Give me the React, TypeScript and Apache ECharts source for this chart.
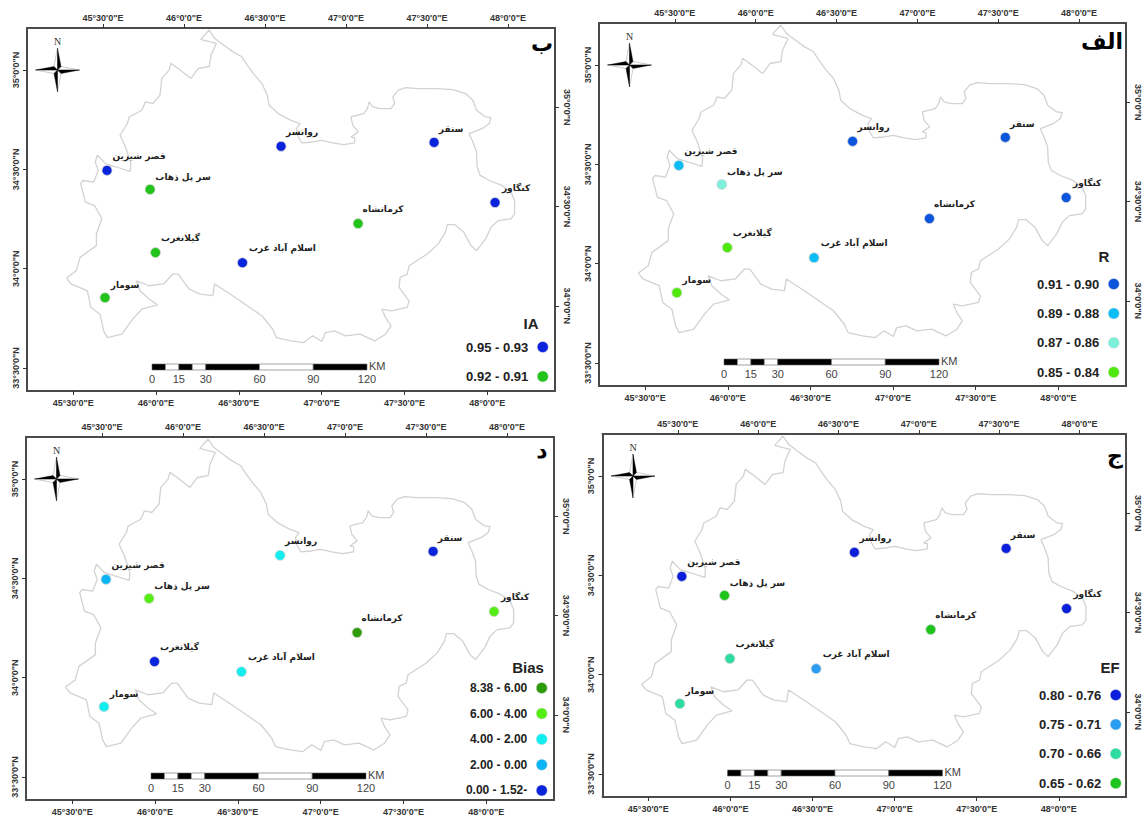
import React, { useEffect, useRef } from "react";
import * as echarts from "echarts";

const stationNames = ["قصر شیرین", "سر پل ذهاب", "روانسر", "سنقر", "کنگاور", "کرمانشاه", "گیلانغرب", "اسلام آباد غرب", "سومار"];
const stationLon = [45.704, 45.964, 46.755, 47.679, 48.047, 47.22, 45.997, 46.522, 45.692];
const stationLat = [34.495, 34.399, 34.616, 34.636, 34.333, 34.227, 34.081, 34.03, 33.854];

const outlineLon = [46.321,46.354,46.408,46.463,46.518,46.551,46.595,46.639,46.672,46.683,46.738,46.815,46.87,46.848,46.859,46.881,46.946,47.001,47.067,47.133,47.199,47.199,47.177,47.221,47.188,47.177,47.254,47.276,47.287,47.309,47.353,47.419,47.441,47.43,47.463,47.506,47.583,47.693,47.792,47.869,47.913,47.935,47.99,48.023,48.012,47.968,47.891,47.913,47.935,47.939,47.957,48.012,48.088,48.143,48.165,48.165,48.143,48.066,48.023,47.99,47.935,47.902,47.858,47.803,47.759,47.748,47.704,47.638,47.528,47.517,47.474,47.467,47.528,47.517,47.419,47.364,47.386,47.419,47.386,47.32,47.232,47.144,47.078,47.023,47.001,46.946,46.892,46.815,46.727,46.705,46.639,46.551,46.463,46.354,46.343,46.266,46.2,46.134,46.101,46.046,45.958,45.881,45.903,45.958,46.009,45.914,45.859,45.794,45.706,45.684,45.662,45.607,45.585,45.486,45.46,45.519,45.541,45.64,45.64,45.673,45.629,45.574,45.545,45.559,45.624,45.651,45.633,45.646,45.695,45.761,45.844,45.848,45.816,45.783,45.827,45.838,45.914,45.936,45.98,46.024,46.035,46.079,46.09,46.134,46.211,46.255,46.321,46.332,46.365,46.321,46.27,46.321];
const outlineLat = [35.202,35.16,35.126,35.093,35.067,35.025,34.975,34.933,34.874,34.823,34.781,34.747,34.731,34.705,34.663,34.633,34.638,34.646,34.633,34.625,34.633,34.66,34.663,34.689,34.722,34.764,34.781,34.806,34.84,34.815,34.806,34.806,34.832,34.865,34.899,34.912,34.907,34.907,34.902,34.882,34.848,34.798,34.764,34.761,34.731,34.705,34.68,34.638,34.588,34.512,34.47,34.444,34.419,34.386,34.343,34.276,34.251,34.242,34.209,34.15,34.091,34.116,34.184,34.222,34.222,34.184,34.125,34.074,34.015,33.973,33.956,33.906,33.838,33.805,33.788,33.796,33.754,33.712,33.67,33.636,33.67,33.662,33.687,33.678,33.633,33.662,33.628,33.636,33.653,33.695,33.763,33.813,33.864,33.923,33.864,33.872,33.897,33.973,33.973,33.923,33.914,33.939,33.889,33.847,33.818,33.796,33.746,33.67,33.653,33.687,33.771,33.805,33.889,33.923,33.953,33.99,34.057,34.116,34.175,34.251,34.318,34.335,34.428,34.444,34.436,34.495,34.537,34.571,34.529,34.512,34.49,34.529,34.613,34.672,34.731,34.764,34.798,34.84,34.832,34.874,34.958,35.0,35.034,35.008,34.958,35.008,35.017,35.076,35.135,35.143,35.155,35.202];

const lonTicksBottom = [45.5, 46, 46.5, 47, 47.5, 48];
const lonTicksTop = [45.5, 46, 46.5, 47, 47.5, 48];
const latTicksLeft = [33.5, 34, 34.5, 35];
const latTicksRight = [34, 34.5, 35];
const scaleBreaks = [0, 7.5, 15, 22.5, 30, 60, 90, 120];
const scaleLabels = [0, 15, 30, 60, 90, 120];

const iaTitle = "IA";
const iaClasses = ["0.95 - 0.93", "0.92 - 0.91"];
const iaColors = ["#0a23dc", "#22c41c"];
const iaStationClass = [0, 1, 0, 0, 0, 1, 1, 0, 1];

const rTitle = "R";
const rClasses = ["0.91 - 0.90", "0.89 - 0.88", "0.87 - 0.86", "0.85 - 0.84"];
const rColors = ["#0b54dc", "#0cbcf5", "#7cf0d8", "#4ee80e"];
const rStationClass = [1, 2, 0, 0, 0, 0, 3, 1, 3];

const biasTitle = "Bias";
const biasClasses = ["8.38 - 6.00", "6.00 - 4.00", "4.00 - 2.00", "2.00 - 0.00", "0.00 - 1.52-"];
const biasColors = ["#2e9c0a", "#55ee14", "#12eef0", "#0cb6f5", "#0a23dc"];
const biasStationClass = [3, 1, 2, 4, 1, 0, 4, 2, 2];

const efTitle = "EF";
const efClasses = ["0.80 - 0.76", "0.75 - 0.71", "0.70 - 0.66", "0.65 - 0.62"];
const efColors = ["#0a1edc", "#2a9df0", "#2fdca0", "#1cc41c"];
const efStationClass = [0, 3, 0, 0, 0, 3, 2, 1, 2];

// layout only
const W = 1142, H = 816, FW = 528, FH = 363;
const labelOffsets = [[32, -14], [33, -12], [21, -14], [17, -13], [21, -15], [25, -15], [25, -15], [40, -15], [20, -13]];
const SANS = '"Liberation Sans", Arial, sans-serif';
const PERSIAN = '"DejaVu Sans", sans-serif';

const panels = [
  { letter: "ب", title: iaTitle, classes: iaClasses, colors: iaColors, assign: iaStationClass, fx: 27, fy: 28, letterX: 515, letterY: 15, titleX: 504, titleY: 295, legendCx: 516, legendTop: 318, rowGap: 29.4, fs: 13, tfs: 15 },
  { letter: "الف", title: rTitle, classes: rClasses, colors: rColors, assign: rStationClass, fx: 599, fy: 23, letterX: 503, letterY: 18, titleX: 505, titleY: 233, legendCx: 515, legendTop: 260, rowGap: 29.4, fs: 13, tfs: 15 },
  { letter: "د", title: biasTitle, classes: biasClasses, colors: biasColors, assign: biasStationClass, fx: 26, fy: 437, letterX: 516, letterY: 13, titleX: 502, titleY: 230, legendCx: 516, legendTop: 250.5, rowGap: 25.6, fs: 12, tfs: 15 },
  { letter: "ج", title: efTitle, classes: efClasses, colors: efColors, assign: efStationClass, fx: 602.5, fy: 434, letterX: 512.5, letterY: 21, titleX: 507.5, titleY: 233, legendCx: 513.5, legendTop: 260, rowGap: 29.4, fs: 13, tfs: 15 },
];

const dms = (v: number, hemi: string) => {
  const d = Math.floor(v + 1e-6);
  const m = Math.round((v - d) * 60);
  return `${d}°${m}'0"${hemi}`;
};

const axisCommon = (ticks: number[], hemi: string, rotate: number, margin: number) => ({
  type: "value" as const,
  splitLine: { show: false },
  axisLine: { show: true, lineStyle: { color: "#4a4a4a", width: 2 } },
  axisTick: { show: true, length: 4, customValues: ticks, lineStyle: { color: "#333", width: 1 } },
  axisLabel: {
    show: true,
    customValues: ticks,
    rotate,
    margin,
    color: "#333",
    fontFamily: SANS,
    fontSize: 9,
    fontWeight: "bold" as const,
    formatter: (v: number) => dms(v, hemi),
  },
});

function buildOption() {
  const grid: any[] = [];
  const xAxis: any[] = [];
  const yAxis: any[] = [];
  const series: any[] = [];
  const legend: any[] = [];
  const graphic: any[] = [];
  const outline = outlineLon.map((x, i) => [x, outlineLat[i]]);
  const kmPx = 215 / 120;

  panels.forEach((p, gi) => {
    grid.push({ left: p.fx, top: p.fy, width: FW, height: FH, show: false });
    const bx = xAxis.length;
    xAxis.push({ gridIndex: gi, position: "bottom", min: 45.221, max: 48.409, ...axisCommon(lonTicksBottom, "E", 0, 7) });
    xAxis.push({ gridIndex: gi, position: "top", min: 45.031, max: 48.29, ...axisCommon(lonTicksTop, "E", 0, 6) });
    const ly = yAxis.length;
    yAxis.push({ gridIndex: gi, position: "left", min: 33.384, max: 35.212, ...axisCommon(latTicksLeft, "N", 90, 7) });
    yAxis.push({ gridIndex: gi, position: "right", min: 33.571, max: 35.399, ...axisCommon(latTicksRight, "N", -90, 7) });

    series.push({
      type: "line", name: `outline-${gi}`, xAxisIndex: bx, yAxisIndex: ly, data: outline,
      showSymbol: false, silent: true, z: 2,
      lineStyle: { color: "#d2d2d2", width: 1.3 },
    });
    p.classes.forEach((cls, ci) => {
      const data = stationNames.flatMap((name, i) =>
        p.assign[i] === ci
          ? [{
              name,
              value: [stationLon[i], stationLat[i]],
              label: {
                show: true, position: "inside", offset: labelOffsets[i], formatter: name,
                color: "#222", fontFamily: PERSIAN, fontSize: 9, fontWeight: "bold",
              },
            }]
          : []);
      series.push({
        type: "scatter", name: cls, xAxisIndex: bx, yAxisIndex: ly, data, symbol: "circle", symbolSize: 10, z: 4,
        itemStyle: { color: p.colors[ci], borderColor: "#d8d8d8", borderWidth: 0.8, opacity: 1 },
      });
    });
    legend.push({
      show: true, orient: "vertical", align: "right", icon: "circle", data: p.classes,
      right: W - (p.fx + p.legendCx + 5.5), top: p.fy + p.legendTop - 5.5, padding: 0,
      itemWidth: 11, itemHeight: 11, itemGap: p.rowGap - p.fs, selectedMode: false,
      itemStyle: { borderColor: "#dddddd", borderWidth: 0.5 },
      textStyle: { color: "#222", fontFamily: SANS, fontSize: p.fs, fontWeight: "bold", padding: [0, 4, 0, 0] },
    });

    // panel letter & legend heading
    graphic.push({ type: "text", x: p.fx + p.letterX, y: p.fy + p.letterY, style: { text: p.letter, fill: "#000", font: `bold 22px ${PERSIAN}`, textAlign: "center", textVerticalAlign: "middle" } });
    graphic.push({ type: "text", x: p.fx + p.titleX, y: p.fy + p.titleY, style: { text: p.title, fill: "#222", font: `bold ${p.tfs}px ${SANS}`, textAlign: "center", textVerticalAlign: "middle" } });

    // scale bar
    const sbx = p.fx + 125, sby = p.fy + 339;
    const rects = scaleBreaks.slice(0, -1).map((b, i) => ({
      type: "rect",
      shape: { x: sbx + b * kmPx, y: sby - 3, width: (scaleBreaks[i + 1] - b) * kmPx, height: 6 },
      style: { fill: i % 2 === 0 && !(i === 5) ? "#000" : "#fff", stroke: "#666", lineWidth: 0.6 },
    }));
    graphic.push(...rects);
    scaleLabels.forEach((k) => {
      graphic.push({ type: "text", x: sbx + k * kmPx, y: sby + 12, style: { text: String(k), fill: "#444", font: `11px ${SANS}`, textAlign: "center", textVerticalAlign: "middle" } });
    });
    graphic.push({ type: "text", x: sbx + 217, y: sby - 1, style: { text: "KM", fill: "#444", font: `11px ${SANS}`, textAlign: "left", textVerticalAlign: "middle" } });

    // north arrow
    const t = 22, s = 3.5;
    const blacks = [
      [[0, -t], [s, -s], [0, 0]],
      [[t, 0], [s, s], [0, 0]],
      [[0, t], [-s, s], [0, 0]],
      [[-t, 0], [-s, -s], [0, 0]],
    ];
    const whites = [
      [[0, -t], [-s, -s], [0, 0]],
      [[t, 0], [s, -s], [0, 0]],
      [[0, t], [s, s], [0, 0]],
      [[-t, 0], [-s, s], [0, 0]],
    ];
    graphic.push({
      type: "group", x: p.fx + 30.5, y: p.fy + 42,
      children: [
        ...whites.map((pts) => ({ type: "polygon", shape: { points: pts }, style: { fill: "#fff", stroke: "#aaa", lineWidth: 0.6 } })),
        ...blacks.map((pts) => ({ type: "polygon", shape: { points: pts }, style: { fill: "#000", stroke: "#000", lineWidth: 0.4 } })),
      ],
    });
    graphic.push({ type: "text", x: p.fx + 30.5, y: p.fy + 13, style: { text: "N", fill: "#333", font: `10px "Liberation Serif", serif`, textAlign: "center", textVerticalAlign: "middle" } });
  });

  return { animation: false, backgroundColor: "#fff", grid, xAxis, yAxis, series, legend, graphic };
}

export default function App() {
  const ref = useRef<HTMLDivElement>(null);
  useEffect(() => {
    if (!ref.current) return;
    const chart = echarts.init(ref.current, undefined, { renderer: "svg" });
    chart.setOption(buildOption() as any);
    return () => chart.dispose();
  }, []);
  return <div ref={ref} style={{ position: "absolute", left: 0, top: 0, width: W, height: H }} />;
}
